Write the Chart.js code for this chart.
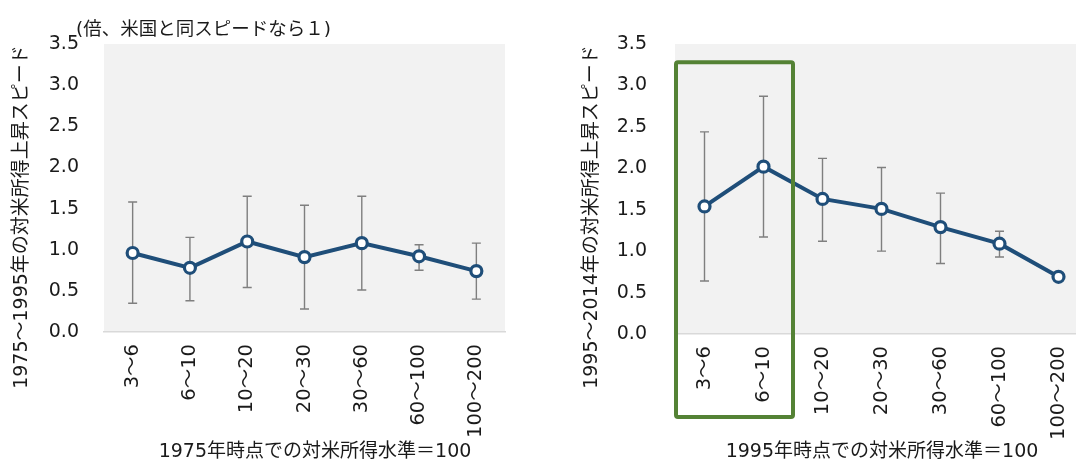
<!DOCTYPE html>
<html lang="ja">
<head>
<meta charset="utf-8">
<script src="https://cdn.jsdelivr.net/npm/chart.js@4/dist/chart.umd.min.js"></script>
<style>
  html, body { margin: 0; padding: 0; width: 1076px; height: 460px; overflow: hidden; background: #fff; }
  .wrap { position: absolute; top: 0; height: 460px; }
  #w1 { left: 0; width: 540px; }
  #w2 { left: 540px; width: 560px; }
</style>
</head>
<body>
<div class="wrap" id="w1"><canvas id="c1"></canvas></div>
<div class="wrap" id="w2"><canvas id="c2"></canvas></div>
<script>
// Income brackets (US income = 100)
const categories = ["3～6", "6～10", "10～20", "20～30", "30～60", "60～100", "100～200"];

// 1975–1995: catch-up speed relative to the US, with range
const speed7595 = [0.96, 0.78, 1.10, 0.91, 1.08, 0.92, 0.74];
const high7595  = [1.58, 1.15, 1.65, 1.54, 1.65, 1.06, 1.08];
const low7595   = [0.35, 0.38, 0.54, 0.28, 0.51, 0.75, 0.40];

// 1995–2014
const speed9514 = [1.54, 2.02, 1.63, 1.51, 1.29, 1.09, 0.69];
const high9514  = [2.44, 2.87, 2.12, 2.01, 1.70, 1.24, null];
const low9514   = [0.64, 1.17, 1.12, 1.00, 0.85, 0.93, null];

// y-axis ticks
const yTicks = [0, 0.5, 1.0, 1.5, 2.0, 2.5, 3.0, 3.5];

const FONT = '"DejaVu Sans", "Noto Sans CJK JP", sans-serif';
const TEXT = '#1a1a1a';
const LINE = '#1f4e79';

// gray plot background
const plotBg = {
  id: 'plotBg',
  beforeDraw(chart) {
    const { ctx, chartArea: a } = chart;
    ctx.save();
    ctx.fillStyle = '#f2f2f2';
    ctx.fillRect(a.left, a.top, a.right - a.left, a.bottom - a.top);
    ctx.restore();
  }
};

// high/low whiskers behind the line
const whiskers = {
  id: 'whiskers',
  beforeDatasetsDraw(chart, args, opts) {
    const { ctx } = chart;
    const xs = chart.scales.x, ys = chart.scales.y;
    ctx.save();
    ctx.strokeStyle = '#7f7f7f';
    ctx.lineWidth = 1.4;
    opts.high.forEach((hi, i) => {
      const lo = opts.low[i];
      if (hi == null || lo == null) return;
      const x = xs.getPixelForValue(i);
      const yh = ys.getPixelForValue(hi), yl = ys.getPixelForValue(lo);
      ctx.beginPath();
      ctx.moveTo(x, yh); ctx.lineTo(x, yl);
      ctx.moveTo(x - 4.5, yh); ctx.lineTo(x + 4.5, yh);
      ctx.moveTo(x - 4.5, yl); ctx.lineTo(x + 4.5, yl);
      ctx.stroke();
    });
    ctx.restore();
  }
};

// axis titles and unit note
const labels = {
  id: 'labels',
  afterDraw(chart, args, o) {
    const { ctx } = chart;
    ctx.save();
    ctx.fillStyle = TEXT;
    ctx.font = '19px ' + FONT;
    ctx.textBaseline = 'middle';
    ctx.textAlign = 'center';
    ctx.fillText(o.xTitle, o.xTitleX, o.xTitleY);
    ctx.save();
    ctx.translate(o.yTitleX, o.yTitleY);
    ctx.rotate(-Math.PI / 2);
    ctx.fillText(o.yTitle, 0, 0);
    ctx.restore();
    if (o.note) {
      ctx.font = '18.5px ' + FONT;
      ctx.textAlign = 'left';
      ctx.fillText(o.note, o.noteX, o.noteY);
    }
    ctx.restore();
  }
};

// green frame around the two lowest income brackets
const highlight = {
  id: 'highlight',
  afterDraw(chart, args, o) {
    if (!o.enabled) return;
    const { ctx, chartArea: a } = chart;
    const xs = chart.scales.x, ys = chart.scales.y;
    const step = xs.getPixelForValue(1) - xs.getPixelForValue(0);
    const x0 = xs.getPixelForValue(o.from) - step / 2 + 1;
    const x1 = xs.getPixelForValue(o.to) + step / 2;
    const y0 = ys.getPixelForValue(o.top);
    const y1 = a.bottom + o.below;
    ctx.save();
    ctx.strokeStyle = '#548235';
    ctx.lineWidth = 4;
    ctx.lineJoin = 'round';
    ctx.beginPath();
    ctx.roundRect(x0, y0, x1 - x0, y1 - y0, 2);
    ctx.stroke();
    ctx.restore();
  }
};

function makeChart(id, values, hi, lo, cfg) {
  return new Chart(document.getElementById(id), {
    type: 'line',
    data: {
      labels: categories,
      datasets: [{
        data: values,
        borderColor: LINE,
        borderWidth: 4,
        pointRadius: 5.5,
        pointBorderWidth: 3.2,
        pointBackgroundColor: '#ffffff',
        pointBorderColor: LINE,
        tension: 0,
        clip: false
      }]
    },
    options: {
      responsive: true,
      maintainAspectRatio: false,
      animation: false,
      layout: { padding: { left: 0, top: 44, right: cfg.padRight, bottom: 0 } },
      plugins: {
        legend: { display: false },
        tooltip: { enabled: false },
        whiskers: { high: hi, low: lo },
        labels: cfg.labels,
        highlight: cfg.highlight || { enabled: false }
      },
      scales: {
        x: {
          offset: true,
          grid: { display: false, drawTicks: false },
          border: { display: true, color: '#d9d9d9', width: 1.5 },
          ticks: {
            color: TEXT, font: { family: FONT, size: 19.5 },
            minRotation: 90, maxRotation: 90, padding: 12, autoSkip: false
          },
          afterFit(s) { s.height = cfg.xAxisHeight; }
        },
        y: {
          min: 0, max: 3.5,
          afterBuildTicks(s) { s.ticks = yTicks.map(v => ({ value: v })); },
          grid: { display: false, drawTicks: false },
          border: { display: false },
          ticks: {
            color: TEXT, font: { family: FONT, size: 19 },
            padding: cfg.tickPad,
            callback: v => Number(v).toFixed(1)
          },
          afterFit(s) { s.width = cfg.yAxisWidth; }
        }
      }
    },
    plugins: [plotBg, whiskers, labels, highlight]
  });
}

makeChart('c1', speed7595, high7595, low7595, {
  padRight: 35, xAxisHeight: 128, yAxisWidth: 104, tickPad: 25,
  labels: {
    xTitle: '1975年時点での対米所得水準＝100', xTitleX: 315, xTitleY: 452,
    yTitle: '1975～1995年の対米所得上昇スピード', yTitleX: 22, yTitleY: 217,
    note: '(倍、米国と同スピードなら１)', noteX: 76, noteY: 30
  }
});

makeChart('c2', speed9514, high9514, low9514, {
  padRight: 12, xAxisHeight: 126, yAxisWidth: 135, tickPad: 28,
  labels: {
    xTitle: '1995年時点での対米所得水準＝100', xTitleX: 342, xTitleY: 452,
    yTitle: '1995～2014年の対米所得上昇スピード', yTitleX: 52, yTitleY: 217
  },
  highlight: { enabled: true, from: 0, to: 1, top: 3.28, below: 83 }
});
</script>
</body>
</html>
